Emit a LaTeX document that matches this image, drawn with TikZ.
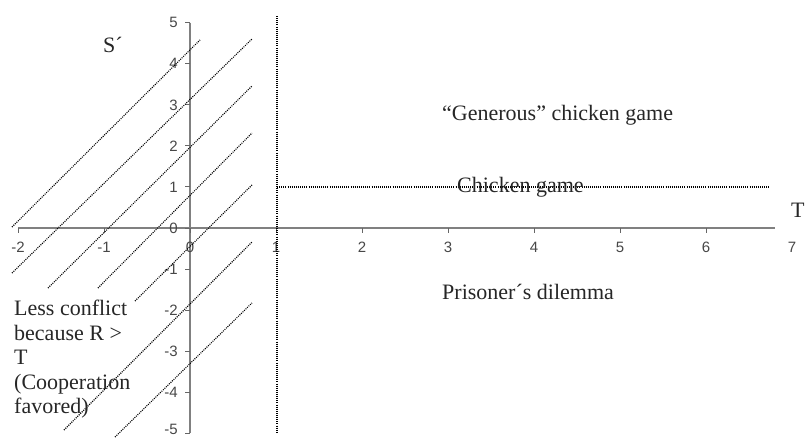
\documentclass[tikz,border=0pt]{standalone}
\usepackage{fontspec}
\setmainfont{Liberation Serif}
\newfontfamily\ticksfont{Liberation Sans}
\begin{document}
\begin{tikzpicture}[x=1pt,y=-1pt,
  axisline/.style={draw=black!50, line width=1.7pt},
  tickmark/.style={draw=black!60, line width=1pt},
  ticklab/.style={font=\ticksfont\fontsize{15}{15}\selectfont, text=black!72, inner sep=0},
  dotline/.style={draw=black, line width=1.1pt, dash pattern=on 1pt off 1.1pt},
  lab/.style={font=\fontsize{22}{24.5}\selectfont, inner sep=0, anchor=west, align=left, text=black!85}]
\useasboundingbox (0,0) rectangle (809,439);
% axes
\coordinate (xa) at (18,228);
\coordinate (xb) at (775,228);
\coordinate (ya) at (190,22.5);
\coordinate (yb) at (190,433);
\draw[axisline] (xa) -- (xb);
\draw[axisline] (ya) -- (yb);
% x ticks and labels
\foreach \v in {-2,...,6} {
  \coordinate (xt\v) at ({190+86*\v},228);
  \draw[tickmark] (xt\v) -- ++(0,4.5);
}
\foreach \v in {-2,...,7} {
  \node[ticklab] (xl\v) at ({190+86*\v},247) {\v};
}
% y ticks and labels
\foreach \v in {-5,...,5} {
  \coordinate (yt\v) at (190,{228-41.05*\v});
  \draw[tickmark] (yt\v) -- ++(-5,0);
}
\foreach \v in {-4,...,5} {
  \node[ticklab, anchor=east] (yl\v) at (178,{228-41.05*\v}) {\v};
}
\node[ticklab, anchor=east] (yl-5) at (178,429) {-5};
% boundary lines
\coordinate (vt) at (277,16);
\coordinate (vb) at (277,432);
\draw[dotline] (vt) -- (vb);
\coordinate (hl) at (277,187);
\coordinate (hr) at (770,187);
\draw[dotline] (hl) -- (hr);
% diagonal dotted lines
\coordinate (d1a) at (12,227);  \coordinate (d1b) at (200,40);
\coordinate (d2a) at (12,273);  \coordinate (d2b) at (252,39);
\coordinate (d3a) at (48,288);  \coordinate (d3b) at (252,86);
\coordinate (d4a) at (98,288);  \coordinate (d4b) at (252,133);
\coordinate (d5a) at (135,301); \coordinate (d5b) at (252,185);
\coordinate (d6a) at (64,430);  \coordinate (d6b) at (252,242);
\coordinate (d7a) at (115,437); \coordinate (d7b) at (252,303);
\foreach \i in {1,...,7} { \draw[dotline] (d\i a) -- (d\i b); }
% labels
\node[lab] (slab) at (103,45) {S´};
\node[lab] (tlab) at (791,210) {T};
\node[lab] (gen) at (442,115) {“Generous” chicken game};
\node[lab] (chk) at (457,187) {Chicken game};
\node[lab] (pd) at (442,292) {Prisoner´s dilemma};
\node[lab, anchor=north west] (less) at (14,300) {Less conflict\\because R >\\T\\(Cooperation\\favored)};
\end{tikzpicture}
\end{document}
